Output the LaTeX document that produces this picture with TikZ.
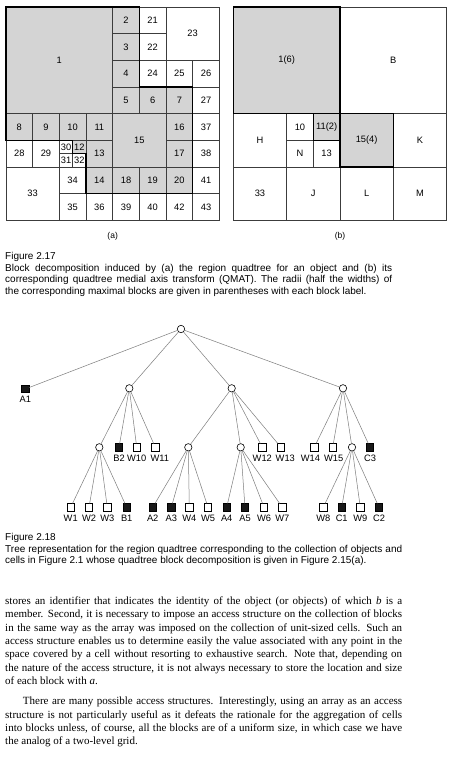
\documentclass[tikz,border=0pt]{standalone}
\usepackage{fontspec}
\setmainfont{Liberation Serif}
\setsansfont{Liberation Sans}

\definecolor{cellgrey}{RGB}{212,212,212}
\definecolor{gridline}{RGB}{60,60,60}
\definecolor{edgegrey}{RGB}{125,125,125}

\tikzset{
  cellline/.style={draw=gridline, line width=0.6pt},
  boldline/.style={draw=black, line width=1.6pt},
  celltext/.style={font=\sffamily\fontsize{9.3}{10}\selectfont, inner sep=0pt},
  sublabel/.style={font=\sffamily\fontsize{8.5}{10}\selectfont, inner sep=0pt},
  inner/.style={circle, draw=black, fill=white, line width=0.6pt, minimum size=7.4pt, inner sep=0pt},
  leafb/.style={rectangle, draw=black, fill=black!90, line width=0.6pt, minimum size=7.2pt, inner sep=0pt,
    label={[leaftext]below:#1}},
  leafw/.style={rectangle, draw=black, fill=white, line width=0.6pt, minimum size=7.2pt, inner sep=0pt,
    label={[leaftext]below:#1}},
  leafws/.style 2 args={rectangle, draw=black, fill=white, line width=0.6pt, minimum size=7.2pt, inner sep=0pt,
    label={[leaftext, xshift=#2]below:#1}},
  leaftext/.style={font=\sffamily\fontsize{9.3}{10}\selectfont, inner sep=0pt, label distance=3.4pt},
  edge/.style={draw=edgegrey, line width=0.5pt},
  caption/.style={anchor=north west, inner sep=0pt, align=justify,
    font=\sffamily\fontsize{10}{11.8}\selectfont},
  bodytext/.style={anchor=north west, inner sep=0pt, text width=397pt, align=justify,
    font=\rmfamily\fontsize{11}{13.4}\selectfont}
}

\begin{document}
\begin{tikzpicture}[x=1pt, y=-1pt]
\useasboundingbox[fill=white] (0,0) rectangle (459,757);

% (a) region quadtree blocks
\begin{scope}[shift={(6,7)}, x=26.667pt, y=-26.667pt]
\foreach \x/\y/\s/\f/\t in {0/0/4/cellgrey/1, 4/0/1/cellgrey/2, 5/0/1/white/21, 6/0/2/white/23,
    4/1/1/cellgrey/3, 5/1/1/white/22, 4/2/1/cellgrey/4, 5/2/1/white/24, 6/2/1/white/25, 7/2/1/white/26,
    4/3/1/cellgrey/5, 5/3/1/cellgrey/6, 6/3/1/cellgrey/7, 7/3/1/white/27,
    0/4/1/cellgrey/8, 1/4/1/cellgrey/9, 2/4/1/cellgrey/10, 3/4/1/cellgrey/11, 4/4/2/cellgrey/15,
    6/4/1/cellgrey/16, 7/4/1/white/37, 0/5/1/white/28, 1/5/1/white/29,
    2/5/0.5/white/30, 2.5/5/0.5/cellgrey/12, 2/5.5/0.5/white/31, 2.5/5.5/0.5/white/32,
    3/5/1/cellgrey/13, 6/5/1/cellgrey/17, 7/5/1/white/38,
    0/6/2/white/33, 2/6/1/white/34, 3/6/1/cellgrey/14, 4/6/1/cellgrey/18, 5/6/1/cellgrey/19,
    6/6/1/cellgrey/20, 7/6/1/white/41,
    2/7/1/white/35, 3/7/1/white/36, 4/7/1/white/39, 5/7/1/white/40, 6/7/1/white/42, 7/7/1/white/43}
{
  \path[cellline, fill=\f] (\x,\y) rectangle ++(\s,\s);
  \node[celltext] (a\t) at (\x+\s/2,\y+\s/2) {\t};
}
\draw[boldline] (0,0) -- (5,0) -- (5,3) -- (7,3) -- (7,7) -- (3,7) -- (3,5.5)
  -- (2.5,5.5) -- (2.5,5) -- (0,5) -- cycle;
\node[sublabel] (capa) at (4,8.6) {(a)};
\end{scope}

% (b) quadtree medial axis transform
\begin{scope}[shift={(233.3,7)}, x=26.667pt, y=-26.667pt]
\foreach \x/\y/\s/\f/\n/\t in {0/0/4/cellgrey/b1/1(6), 4/0/4/white/bB/B,
    0/4/2/white/bH/H, 2/4/1/white/b10/10, 3/4/1/cellgrey/b11/11(2), 2/5/1/white/bN/N,
    3/5/1/white/b13/13, 4/4/2/cellgrey/b15/15(4), 6/4/2/white/bK/K,
    0/6/2/white/b33/33, 2/6/2/white/bJ/J, 4/6/2/white/bL/L, 6/6/2/white/bM/M}
{
  \path[cellline, fill=\f] (\x,\y) rectangle ++(\s,\s);
  \node[celltext] (\n) at (\x+\s/2,\y+\s/2) {\t};
}
\draw[boldline] (0,0) rectangle (4,4);
\draw[boldline] (3,4) rectangle (4,5);
\draw[boldline] (4,4) rectangle (6,6);
\node[sublabel] (capb) at (4,8.6) {(b)};
\end{scope}

\node[caption, text width=387pt] (cap17) at (5,251.8) {Figure 2.17\\
Block decomposition induced by (a) the region quadtree for an object and (b) its\linebreak
corresponding quadtree medial axis transform (QMAT). The radii (half the widths) of\linebreak
the corresponding maximal blocks are given in parentheses with each block label.};

% tree of the region quadtree
\node[inner] (root) at (181,329) {};
\node[leafb=A1] (A1) at (25.3,389) {};
\node[inner] (n1) at (129.3,388.3) {};
\node[inner] (n2) at (231.7,388.3) {};
\node[inner] (n3) at (343,388.3) {};

\node[inner] (n11) at (99.3,447.3) {};
\node[leafb=B2] (B2) at (119,447.3) {};
\node[leafw=W10] (W10) at (136.7,447.3) {};
\node[leafws={W11}{4.5pt}] (W11) at (155.3,447.3) {};
\node[inner] (n21) at (188.3,447.3) {};
\node[inner] (n22) at (240.7,447.3) {};
\node[leafw=W12] (W12) at (262.3,447.3) {};
\node[leafws={W13}{4.3pt}] (W13) at (281,447.3) {};
\node[leafws={W14}{-3.8pt}] (W14) at (314.3,447.3) {};
\node[leafws={W15}{1pt}] (W15) at (332.7,447.3) {};
\node[inner] (n31) at (352,447.3) {};
\node[leafb=C3] (C3) at (370,447.3) {};

\node[leafw=W1] (W1) at (70.7,507.3) {};
\node[leafw=W2] (W2) at (89,507.3) {};
\node[leafw=W3] (W3) at (107.3,507.3) {};
\node[leafb=B1] (B1) at (126.7,507.3) {};
\node[leafb=A2] (A2) at (152.7,507.3) {};
\node[leafb=A3] (A3) at (171.3,507.3) {};
\node[leafw=W4] (W4) at (189.3,507.3) {};
\node[leafw=W5] (W5) at (208,507.3) {};
\node[leafb=A4] (A4) at (226.7,507.3) {};
\node[leafb=A5] (A5) at (245,507.3) {};
\node[leafw=W6] (W6) at (264,507.3) {};
\node[leafw=W7] (W7) at (282.3,507.3) {};
\node[leafw=W8] (W8) at (323.3,507.3) {};
\node[leafb=C1] (C1) at (341.7,507.3) {};
\node[leafw=W9] (W9) at (360.3,507.3) {};
\node[leafb=C2] (C2) at (379,507.3) {};

\foreach \p/\c in {root/A1, root/n1, root/n2, root/n3,
    n1/n11, n1/B2, n1/W10, n1/W11, n2/n21, n2/n22, n2/W12, n2/W13,
    n3/W14, n3/W15, n3/n31, n3/C3,
    n11/W1, n11/W2, n11/W3, n11/B1, n21/A2, n21/A3, n21/W4, n21/W5,
    n22/A4, n22/A5, n22/W6, n22/W7, n31/W8, n31/C1, n31/W9, n31/C2}
  \draw[edge] (\p) -- (\c);

\node[caption, text width=397pt] (cap18) at (5,532.8) {Figure 2.18\\
Tree representation for the region quadtree corresponding to the collection of objects and\linebreak
cells in Figure 2.1 whose quadtree block decomposition is given in Figure 2.15(a).};

% running text
\node[bodytext] (para1) at (5,596.4) {stores an identifier that indicates the identity of the object (or objects) of which \textit{b} is a\linebreak
member. Second, it is necessary to impose an access structure on the collection of blocks\linebreak
in the same way as the array was imposed on the collection of unit-sized cells. Such an\linebreak
access structure enables us to determine easily the value associated with any point in the\linebreak
space covered by a cell without resorting to exhaustive search. Note that, depending on\linebreak
the nature of the access structure, it is not always necessary to store the location and size\linebreak
of each block with \textit{a}.};
\node[bodytext] (para2) at (5,696.8) {\hspace*{17.7pt}There are many possible access structures. Interestingly, using an array as an access\linebreak
structure is not particularly useful as it defeats the rationale for the aggregation of cells\linebreak
into blocks unless, of course, all the blocks are of a uniform size, in which case we have\linebreak
the analog of a two-level grid.};
\end{tikzpicture}
\end{document}
